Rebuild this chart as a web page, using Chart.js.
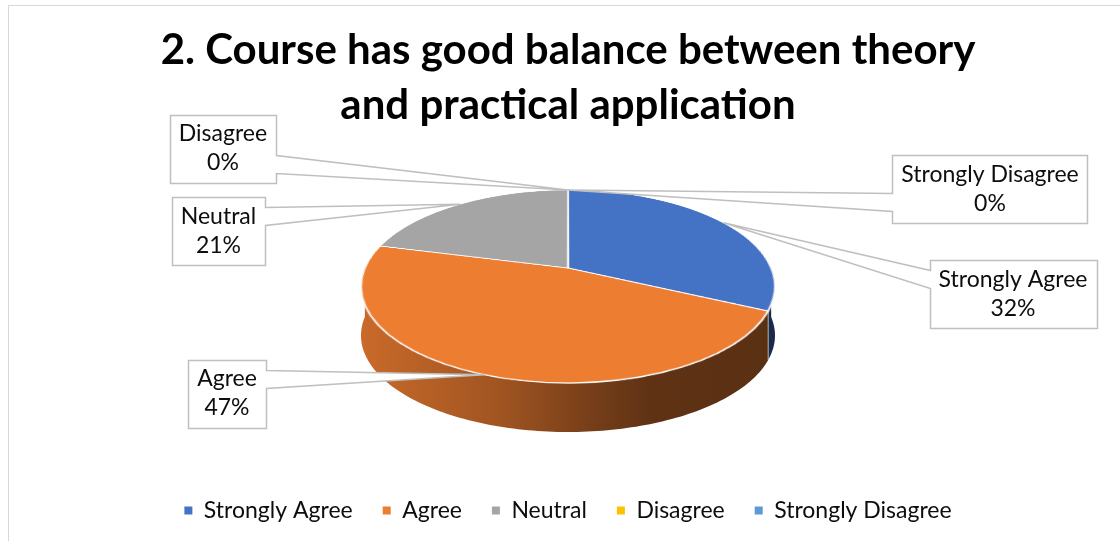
<!DOCTYPE html>
<html>
<head>
<meta charset="utf-8">
<script src="https://cdn.jsdelivr.net/npm/chart.js@4.4.1/dist/chart.umd.min.js"></script>
<style>
  html, body { margin: 0; padding: 0; background: #fff; overflow: hidden; }
  #wrap { position: relative; width: 1120px; height: 541px; }
  #frame { position: absolute; left: 8px; top: 5px; width: 1130px; height: 560px; border: 1px solid #d9d9d9; }
  #pie { position: absolute; left: 0; top: 0; }
</style>
</head>
<body>
<div id="wrap">
  <div id="frame"></div>
  <canvas id="pie" width="1120" height="541"></canvas>
</div>
<script>
const categories = ['Strongly Agree', 'Agree', 'Neutral', 'Disagree', 'Strongly Disagree'];
const shares = [32, 47, 21, 0, 0];
const sliceColors = ['#4472C4', '#ED7D31', '#A5A5A5', '#FFC000', '#5B9BD5'];
const titleLines = ['2. Course has good balance between theory', 'and practical application'];

// where each callout box sits (centre) and where its pointer leaves the box (0 = top, 1 = bottom)
const calloutAt = [
  { x: 1013, y: 294, base: 0.28 },
  { x: 227, y: 393.5, base: 0.28 },
  { x: 218.5, y: 231, base: 0.28 },
  { x: 223, y: 148.5, base: 0.72 },
  { x: 990, y: 189, base: 0.69 }
];

const labelFont = '23px Lato';

// the pie seen from above at an angle: far/near = half height of the top face behind / in front of the apex
const view = { apexY: 268, far: 78, near: 115, halfWidth: 207, depth: 49 };

const shade = (hex, f) => {
  const n = parseInt(hex.slice(1), 16);
  const r = Math.round(((n >> 16) & 255) * f), g = Math.round(((n >> 8) & 255) * f), b = Math.round((n & 255) * f);
  return `rgb(${r},${g},${b})`;
};

const getView = (chart) => {
  const arc = chart.getDatasetMeta(0).data[0];
  const c = (view.far - view.near) / (view.far + view.near);
  return {
    x: arc.x, y: view.apexY, c: c,
    P: view.far * (1 - c),
    S: view.halfWidth * Math.sqrt(1 - c * c),
    halfWidth: view.halfWidth, far: view.far, near: view.near, depth: view.depth
  };
};

// u, t in pie radii, t > 0 is toward the viewer
const project = (v, u, t) => {
  const k = 1 + v.c * t;
  return { x: v.x + v.S * u / k, y: v.y + v.P * t / k };
};

const drawSides = (ctx, v, arcs) => {
  arcs.forEach((arc) => {
    const color = arc.options.backgroundColor;
    for (const base of [-2 * Math.PI, 0, 2 * Math.PI]) {
      const lo = Math.max(arc.startAngle, base), hi = Math.min(arc.endAngle, base + Math.PI);
      if (hi <= lo) continue;
      const n = Math.max(2, Math.ceil((hi - lo) / 0.02));
      const pts = [];
      for (let i = 0; i <= n; i++) {
        const a = lo + (hi - lo) * i / n;
        pts.push(project(v, Math.cos(a), Math.sin(a)));
      }
      ctx.beginPath();
      pts.forEach((p, i) => (i ? ctx.lineTo(p.x, p.y) : ctx.moveTo(p.x, p.y)));
      for (let i = n; i >= 0; i--) ctx.lineTo(pts[i].x, pts[i].y + v.depth);
      ctx.closePath();
      const grad = ctx.createLinearGradient(v.x - v.halfWidth, 0, v.x + v.halfWidth, 0);
      grad.addColorStop(0, shade(color, 0.85));
      grad.addColorStop(0.33, shade(color, 0.68));
      grad.addColorStop(0.55, shade(color, 0.5));
      grad.addColorStop(0.7, shade(color, 0.4));
      grad.addColorStop(1, shade(color, 0.38));
      ctx.fillStyle = grad;
      ctx.fill();
    }
  });
  // light seams where two slices meet on the front wall
  ctx.strokeStyle = 'rgba(255,255,255,0.55)';
  ctx.lineWidth = 1;
  arcs.forEach((arc) => {
    const s = Math.sin(arc.endAngle);
    if (arc.circumference > 0 && s > 0.05) {
      const p = project(v, Math.cos(arc.endAngle), s);
      ctx.beginPath();
      ctx.moveTo(p.x, p.y);
      ctx.lineTo(p.x, p.y + v.depth);
      ctx.stroke();
    }
  });
};

const drawTopFace = (ctx, v, arcs) => {
  const off = document.createElement('canvas');
  off.width = ctx.canvas.width;
  off.height = ctx.canvas.height;
  const octx = off.getContext('2d');
  arcs.forEach((arc) => arc.draw(octx));

  const R = arcs[0].outerRadius, sx = arcs[0].x, sy = arcs[0].y;
  ctx.imageSmoothingEnabled = true;
  ctx.imageSmoothingQuality = 'high';
  const yTop = Math.floor(v.y - v.far) - 2, yBot = Math.ceil(v.y + v.near) + 2;
  for (let y = yTop; y <= yBot; y++) {
    const dy = y + 0.5 - v.y;
    const t = dy / (v.P - v.c * dy);
    if (t < -1.03 || t > 1.03) continue;
    const k = 1 + v.c * t;
    const srcH = R * v.P / Math.pow(v.P - v.c * dy, 2);
    const scale = v.S / (R * k);
    ctx.drawImage(off, sx - R - 3, sy + t * R - srcH / 2, 2 * R + 6, srcH,
      v.x - (R + 3) * scale, y, (2 * R + 6) * scale, 1);
  }
};

const tiltPlugin = {
  id: 'tilt',
  beforeDatasetsDraw(chart) {
    const ctx = chart.ctx;
    const arcs = chart.getDatasetMeta(0).data;
    const v = getView(chart);
    ctx.save();
    drawSides(ctx, v, arcs);
    drawTopFace(ctx, v, arcs);
    ctx.restore();
    return false;
  }
};

const calloutPlugin = {
  id: 'callouts',
  afterDraw(chart) {
    const ctx = chart.ctx;
    const arcs = chart.getDatasetMeta(0).data;
    const v = getView(chart);
    const values = chart.data.datasets[0].data;
    const total = values.reduce((a, b) => a + b, 0);
    ctx.save();
    ctx.font = labelFont;
    arcs.forEach((arc, i) => {
      const lines = [chart.data.labels[i], Math.round(values[i] / total * 100) + '%'];
      const mid = (arc.startAngle + arc.endAngle) / 2;
      const tip = project(v, Math.cos(mid), Math.sin(mid));
      const pos = calloutAt[i];
      const w = Math.max(...lines.map((l) => ctx.measureText(l).width)) + 18;
      const h = 68;
      const L = Math.round(pos.x - w / 2) + 0.5, T = Math.round(pos.y - h / 2) + 0.5;
      const Rr = L + Math.round(w), B = T + h;
      const by = T + pos.base * h;

      ctx.beginPath();
      if (tip.x > pos.x) {
        ctx.moveTo(L, T); ctx.lineTo(Rr, T); ctx.lineTo(Rr, by - 9);
        ctx.lineTo(tip.x, tip.y);
        ctx.lineTo(Rr, by + 9); ctx.lineTo(Rr, B); ctx.lineTo(L, B);
      } else {
        ctx.moveTo(L, T); ctx.lineTo(Rr, T); ctx.lineTo(Rr, B); ctx.lineTo(L, B);
        ctx.lineTo(L, by + 9);
        ctx.lineTo(tip.x, tip.y);
        ctx.lineTo(L, by - 9);
      }
      ctx.closePath();
      ctx.fillStyle = '#ffffff';
      ctx.fill();
      ctx.strokeStyle = '#bfbfbf';
      ctx.lineWidth = 1.5;
      ctx.stroke();

      ctx.fillStyle = '#0d0d0d';
      ctx.textAlign = 'center';
      ctx.textBaseline = 'middle';
      ctx.fillText(lines[0], pos.x, pos.y - 14.5);
      ctx.fillText(lines[1], pos.x, pos.y + 14.5);
    });
    ctx.restore();
  }
};

new Chart(document.getElementById('pie'), {
  type: 'pie',
  data: {
    labels: categories,
    datasets: [{
      data: shares,
      backgroundColor: sliceColors,
      borderColor: '#ffffff',
      borderWidth: 1.5
    }]
  },
  options: {
    responsive: false,
    animation: false,
    layout: { padding: { left: 16, bottom: 9 } },
    plugins: {
      title: {
        display: true,
        text: titleLines,
        color: '#000000',
        font: { family: 'Lato', size: 42, weight: 'bold', lineHeight: 1.31 },
        padding: { top: 23, bottom: 0 }
      },
      legend: {
        position: 'bottom',
        labels: {
          boxWidth: 8,
          boxHeight: 8,
          padding: 30,
          color: '#0d0d0d',
          font: { family: 'Lato', size: 23 },
          generateLabels: (chart) => Chart.overrides.pie.plugins.legend.labels.generateLabels(chart)
            .map((item) => ({ ...item, lineWidth: 0 }))
        }
      },
      tooltip: { enabled: false }
    }
  },
  plugins: [tiltPlugin, calloutPlugin]
});
</script>
</body>
</html>
